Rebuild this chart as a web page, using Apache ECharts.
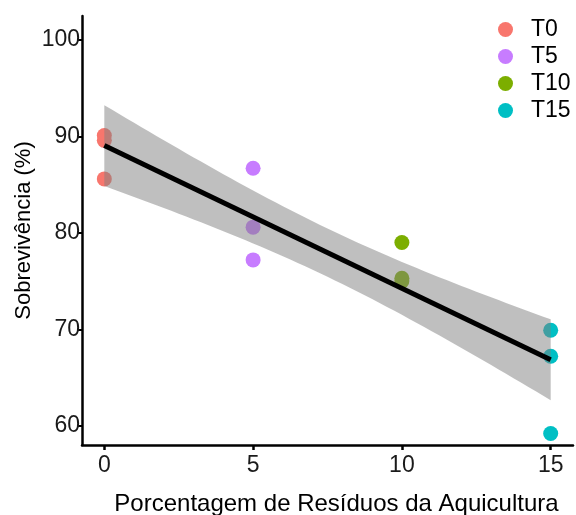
<!DOCTYPE html>
<html lang="pt">
<head>
    <meta charset="UTF-8">
    <title>Sobrevivência x Resíduos</title>
    <script src="https://cdn.jsdelivr.net/npm/echarts@6/dist/echarts.min.js"></script>
    <style>
        html, body { margin: 0; padding: 0; background: #fff; }
    </style>
</head>
<body>
    <div id="chart" style="width: 576px; height: 515px;"></div>
    <script>
        // dados
        const groups = ['T0', 'T5', 'T10', 'T15'];
        const doses = [0, 5, 10, 15];
        const survT0 = [90.1, 89.6, 85.6];
        const survT5 = [86.7, 80.6, 77.2];
        const survT10 = [79.0, 75.0, 75.3];
        const survT15 = [69.9, 67.2, 59.2];
        const colors = ['#F8766D', '#C77CFF', '#7CAE00', '#00BFC4'];
        const xTicks = [0, 5, 10, 15];
        const yTicks = [60, 70, 80, 90, 100];

        const surv = [survT0, survT5, survT10, survT15];
        const font = 'Liberation Sans, Arial, sans-serif';

        // regressão linear + IC 95% (como geom_smooth(method = "lm"))
        const pts = [];
        surv.forEach((arr, i) => arr.forEach(v => pts.push([doses[i], v])));
        const n = pts.length;
        const mx = pts.reduce((s, p) => s + p[0], 0) / n;
        const my = pts.reduce((s, p) => s + p[1], 0) / n;
        let sxx = 0, sxy = 0;
        pts.forEach(p => { sxx += (p[0] - mx) ** 2; sxy += (p[0] - mx) * (p[1] - my); });
        const slope = sxy / sxx;
        const icpt = my - slope * mx;
        let sse = 0;
        pts.forEach(p => { sse += (p[1] - icpt - slope * p[0]) ** 2; });
        const s = Math.sqrt(sse / (n - 2));
        const tval = 2.228; // t(0.975, 10 gl)

        const bandUpper = [], bandLower = [];
        for (let k = 0; k <= 60; k++) {
            const x = 15 * k / 60;
            const fit = icpt + slope * x;
            const se = s * Math.sqrt(1 / n + (x - mx) ** 2 / sxx);
            bandUpper.push([x, fit + tval * se]);
            bandLower.push([x, fit - tval * se]);
        }
        const fitLine = [[0, icpt], [15, icpt + slope * 15]];

        const chart = echarts.init(document.getElementById('chart'));

        const scatterSeries = groups.map((g, i) => ({
            name: g,
            type: 'scatter',
            symbolSize: 15,
            itemStyle: { color: colors[i], opacity: 1 },
            z: 2,
            data: surv[i].map(v => [doses[i], v])
        }));

        const option = {
            animation: false,
            backgroundColor: '#fff',
            textStyle: { fontFamily: font },
            grid: { left: 82, right: 3, top: 16, bottom: 70, containLabel: false, outerBoundsMode: 'none' },
            legend: {
                orient: 'vertical',
                left: 493,
                top: 13,
                icon: 'circle',
                itemWidth: 15,
                itemHeight: 15,
                itemGap: 4,
                data: groups,
                textStyle: { fontSize: 23, color: '#000', fontFamily: font, padding: [0, 0, 0, 13] }
            },
            xAxis: {
                type: 'value',
                min: -0.75,
                max: 15.75,
                name: 'Porcentagem de Resíduos da Aquicultura',
                nameLocation: 'middle',
                nameGap: 47,
                nameTextStyle: { fontSize: 24, color: '#000', fontFamily: font, padding: [0, 0, 0, 18] },
                axisLine: { onZero: false, lineStyle: { color: '#000', width: 2.5 } },
                axisTick: { show: true, length: 5, lineStyle: { color: '#000', width: 2.5 }, customValues: xTicks },
                axisLabel: { fontSize: 23, color: '#1a1a1a', margin: 9, customValues: xTicks },
                splitLine: { show: false }
            },
            yAxis: {
                type: 'value',
                min: 58.0,
                max: 102.5,
                name: 'Sobrevivência (%)',
                nameLocation: 'middle',
                nameRotate: 90,
                nameGap: 47,
                nameMoveOverlap: false,
                nameTextStyle: { fontSize: 22, color: '#000', fontFamily: font },
                axisLine: { show: true, onZero: false, lineStyle: { color: '#000', width: 2.5 } },
                axisTick: { show: true, length: 4, lineStyle: { color: '#000', width: 2 }, customValues: yTicks },
                axisLabel: { fontSize: 23, color: '#1a1a1a', margin: 2, customValues: yTicks },
                splitLine: { show: false }
            },
            series: scatterSeries.concat([
                {
                    name: 'IC',
                    type: 'custom',
                    z: 3,
                    silent: true,
                    data: [0],
                    renderItem: function (params, api) {
                        const poly = bandUpper.concat(bandLower.slice().reverse()).map(p => api.coord(p));
                        return {
                            type: 'polygon',
                            shape: { points: poly },
                            style: { fill: 'rgba(128,128,128,0.5)' }
                        };
                    }
                },
                {
                    name: 'ajuste',
                    type: 'line',
                    z: 4,
                    symbol: 'none',
                    lineStyle: { color: '#000', width: 5 },
                    data: fitLine
                }
            ])
        };

        chart.setOption(option);
    </script>
</body>
</html>
